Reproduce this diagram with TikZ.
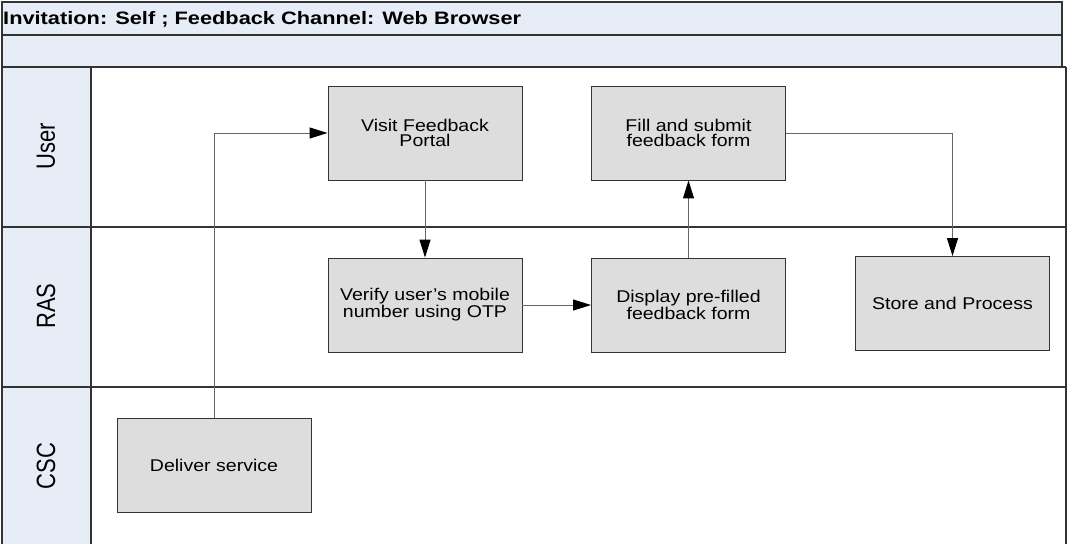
\documentclass[tikz,border=0pt]{standalone}
\usepackage{fontspec}
\setmainfont{Liberation Sans}
\usetikzlibrary{arrows.meta}
\definecolor{bandblue}{HTML}{E6EDF7}
\definecolor{boxgrey}{HTML}{DDDDDD}
\definecolor{edge}{HTML}{333333}
\newcommand\wide[1]{\scalebox{1.15}[1]{#1}}
\begin{document}
\begin{tikzpicture}[x=1pt,y=-1pt,
  stepbox/.style={draw=edge,fill=boxgrey,line width=0.9pt,minimum width=194pt,minimum height=94pt,
    inner sep=0pt,align=center,font=\fontsize{17}{15}\selectfont},
  lanelabel/.style={rotate=90,font=\fontsize{22}{24}\selectfont},
  flow/.style={draw=black!60,line width=1pt,-{Triangle[length=18pt,width=11pt,color=black]}},
  border/.style={draw=edge,line width=1.1pt}]
\useasboundingbox (0,0) rectangle (1067,544);

% title bands
\draw[border,fill=bandblue] (2,2) rectangle (1062,35);
\draw[border,fill=bandblue] (2,35) rectangle (1062,67);
\node[anchor=base west,inner sep=0pt,font=\fontsize{18}{20}\selectfont\bfseries] (title) at (3,24)
  {\scalebox{1.21}[1]{Invitation: Self ; Feedback Channel: Web Browser}};

% lane header column
\fill[bandblue] (2,67) rectangle (91,544);
\draw[border] (2,67) -- (1066,67);
\draw[border] (2,227) -- (1066,227);
\draw[border] (2,387) -- (1066,387);
\draw[border] (2,67) -- (2,544);
\draw[border] (91,67) -- (91,544);
\draw[border] (1066,67) -- (1066,544);

\node[lanelabel] (lu) at (46,146) {\scalebox{1}[1.2]{User}};
\node[lanelabel] (lr) at (46,306) {\scalebox{1}[1.2]{RAS}};
\node[lanelabel] (lc) at (46,466) {\scalebox{1}[1.2]{CSC}};

% process steps
\node[stepbox] (visit)   at (425,133)   {\wide{Visit Feedback}\\\wide{Portal}};
\node[stepbox] (fill)    at (688.5,133) {\wide{Fill and submit}\\\wide{feedback form}};
\node[stepbox] (verify)  at (425,305)   {\wide{Verify user's mobile}\\\wide{number using OTP}};
\node[stepbox] (display) at (688.5,305) {\wide{Display pre-filled}\\\wide{feedback form}};
\node[stepbox] (store)   at (952.5,303.5) {\wide{Store and Process}};
\node[stepbox] (deliver) at (214,465)   {\wide{Deliver service}};

% connectors
\draw[flow] (deliver.north) |- (visit.west);
\draw[flow] (visit.south) -- (verify.north);
\draw[flow] (verify.east) -- (display.west);
\draw[flow] (display.north) -- (fill.south);
\draw[flow] (fill.east) -| (store.north);
\end{tikzpicture}
\end{document}
